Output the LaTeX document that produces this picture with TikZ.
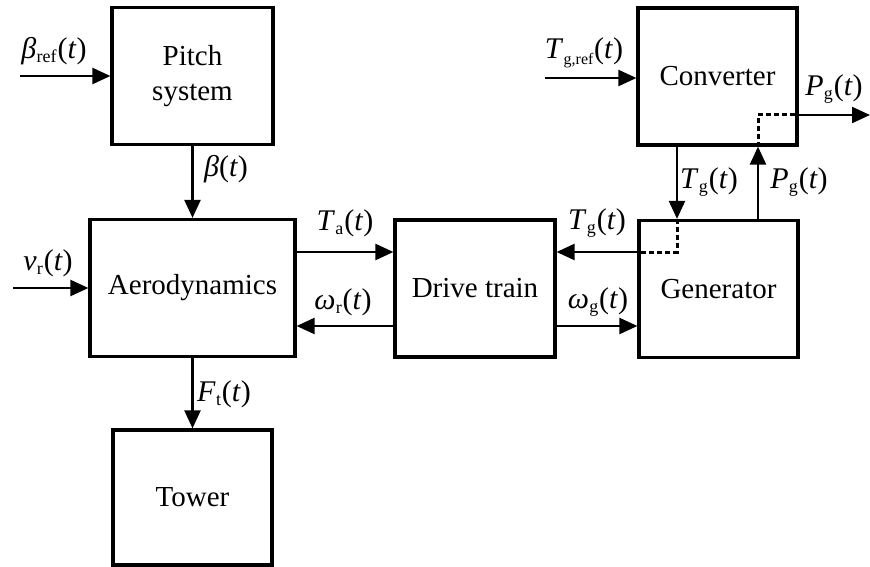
\documentclass[tikz,border=0pt]{standalone}
\usepackage{fontspec}
\setmainfont{Liberation Serif}
\usetikzlibrary{arrows.meta}
\newcommand{\mysig}[2]{\textit{#1}\kern0.01em\raisebox{-0.32ex}{\fontsize{18}{20}\selectfont #2}\kern0.03em(\textit{t})}
\begin{document}
\begin{tikzpicture}[x=1pt,y=-1pt,
  blk/.style={draw,line width=3.2pt,minimum width=#1,minimum height=137pt,inner sep=0pt,align=center,font=\fontsize{29}{34}\selectfont},
  arr/.style={line width=2.3pt,-{Triangle[length=18pt,width=16pt]}},
  dsh/.style={line width=3pt,dash pattern=on 5pt off 3pt},
  lbl/.style={font=\fontsize{30}{34}\selectfont,inner sep=0pt}]
\useasboundingbox (0,0) rectangle (870,567);
% blocks
\node[blk=161pt] (pitch) at (192.5,76) {Pitch\\[1pt]system};
\node[blk=205pt] (aero) at (192.5,288) {Aerodynamics};
\node[blk=159pt,minimum height=135pt] (tower) at (192.5,497.5) {Tower};
\node[blk=160pt] (drive) at (475,288.5) {Drive train};
\node[blk=159pt] (gen) at (718.5,289) {Generator};
\node[blk=159pt] (conv) at (717.5,76.5) {Converter};
% helper coordinates
\coordinate (bin) at (20,76);
\coordinate (vin) at (13,288);
\coordinate (tin) at (545,78);
\coordinate (rowA) at (0,252);
\coordinate (rowB) at (0,326);
\coordinate (rowP) at (0,115);
\coordinate (tgx) at (677,0);
\coordinate (pgx) at (758,0);
\coordinate (pout) at (870,115);
% connectors
\draw[arr] (bin) -- (bin -| pitch.west);
\draw[arr] (pitch.south) -- (aero.north);
\draw[arr] (vin) -- (vin -| aero.west);
\draw[arr] (aero.east |- rowA) -- (drive.west |- rowA);
\draw[arr] (drive.west |- rowB) -- (aero.east |- rowB);
\draw[arr] (gen.west |- rowA) -- (drive.east |- rowA);
\draw[arr] (drive.east |- rowB) -- (gen.west |- rowB);
\draw[arr] (aero.south) -- (tower.north);
\draw[arr] (tin) -- (tin -| conv.west);
\draw[arr] (conv.east |- rowP) -- (pout);
\draw[arr] (conv.south -| tgx) -- (gen.north -| tgx);
\draw[arr] (gen.north -| pgx) -- (conv.south -| pgx);
\draw[dsh] (conv.south -| pgx) -- (pgx |- rowP) -- (conv.east |- rowP);
\draw[dsh] (gen.north -| tgx) -- (tgx |- rowA) -- (gen.west |- rowA);
% labels
\node[lbl] (lbref) at (54,51) {\mysig{β}{ref}};
\node[lbl] (lb) at (226,169) {\textit{β}(\textit{t})};
\node[lbl] (lvr) at (48,263) {\mysig{v}{r}};
\node[lbl] (lta) at (345,223) {\mysig{T}{a}};
\node[lbl] (lwr) at (343,302) {\mysig{ω}{r}};
\node[lbl] (ltg) at (597,223) {\mysig{T}{g}};
\node[lbl] (lwg) at (598,302) {\mysig{ω}{g}};
\node[lbl] (lft) at (224,394) {\mysig{F}{t}};
\node[lbl] (ltgref) at (584,53) {\textit{T}\kern0.01em\raisebox{-0.4ex}{\fontsize{16}{18}\selectfont g,ref}\kern0.02em(\textit{t})};
\node[lbl] (lpg) at (834,89) {\mysig{P}{g}};
\node[lbl] (ltgv) at (709,182) {\mysig{T}{g}};
\node[lbl] (lpgv) at (799,182) {\mysig{P}{g}};
\end{tikzpicture}
\end{document}
